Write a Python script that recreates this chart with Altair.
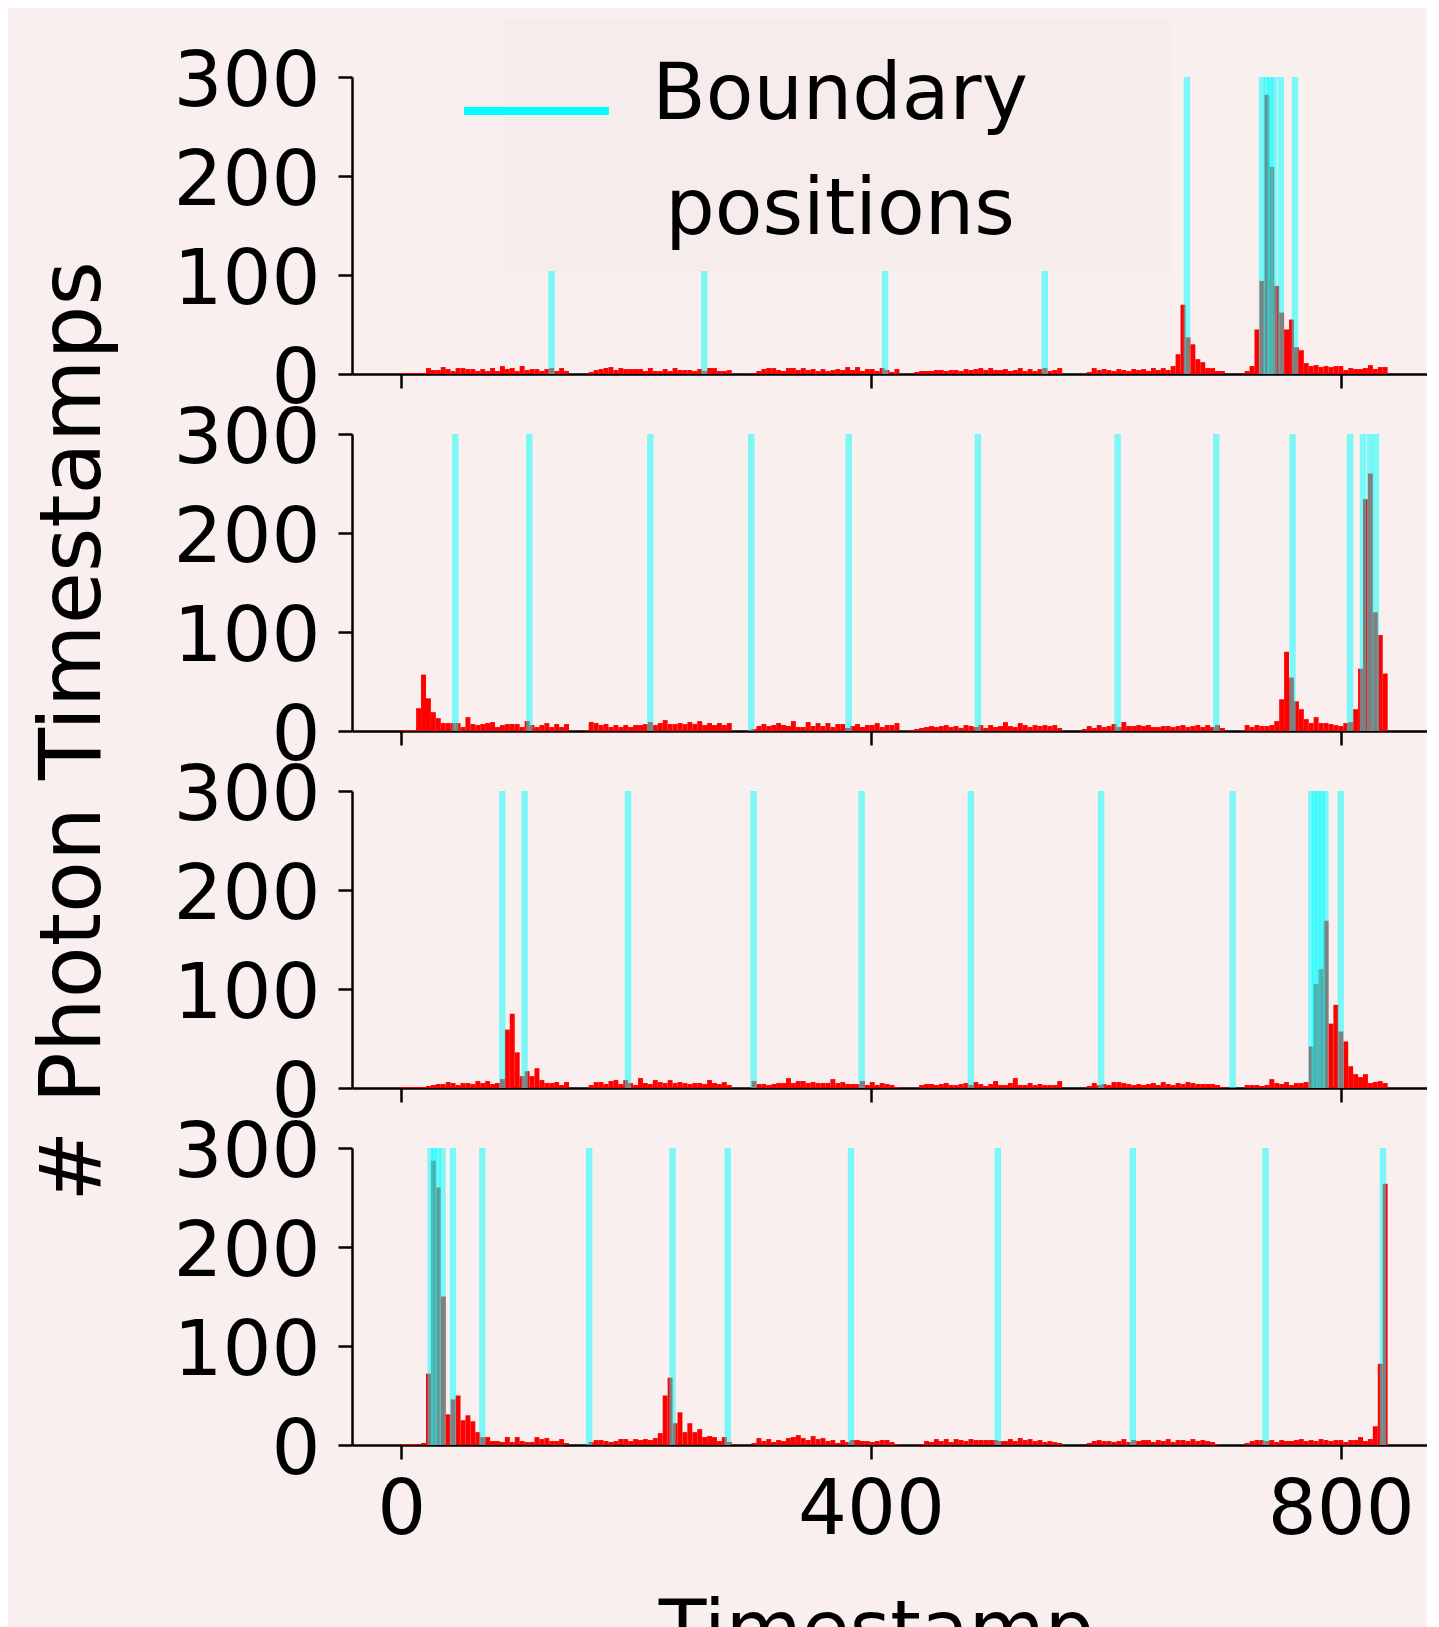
import altair as alt
import pandas as pd

# ---------------- data ----------------
BIN_WIDTH = 4.2  # histogram bin width in timestamp units

counts_1 = [1,1,1,1,1,
            6,4,4,7,5,3,6,6,5,5,3,5,3,6,3,8,5,6,3,8,4,5,5,3,5,6,3,6,3,
            0,0,0,0,
            2,4,5,6,7,4,6,5,5,5,5,3,6,3,3,5,3,6,4,4,4,3,5,3,6,6,3,3,4,
            0,0,0,0,
            1,3,5,6,6,4,3,6,6,4,6,4,5,3,5,3,4,5,4,7,4,7,3,5,5,3,6,4,2,5,
            0,0,0,2,
            3,3,3,4,4,3,4,4,3,5,4,5,6,4,6,4,4,5,3,4,6,3,5,3,5,6,3,4,6,
            0,0,0,0,0,
            2,6,4,5,4,3,5,4,3,5,4,5,3,6,4,6,4,
            8,20,70,37,30,15,12,6,6,3,3,
            0,0,0,0,
            3,8,45,94,282,209,89,62,45,55,27,24,11,
            8,9,7,8,7,8,8,4,6,5,5,6,9,5,7,7]

counts_2 = [1,1,1,
            23,57,33,19,13,8,8,
            8,8,4,14,7,6,7,8,9,4,6,7,7,7,4,10,6,4,6,8,4,7,4,7,
            0,0,0,1,
            9,8,6,7,4,6,4,6,4,6,6,7,9,6,8,11,7,7,8,7,9,7,10,6,8,6,8,6,8,
            0,0,0,1,
            2,5,7,5,6,8,6,5,10,4,4,9,5,8,5,8,4,7,7,3,5,7,4,6,6,8,4,6,6,8,
            0,0,1,2,
            3,4,5,4,5,6,4,5,3,6,5,4,6,3,6,4,5,9,5,4,8,6,4,6,5,6,5,6,3,
            0,0,0,0,2,
            5,3,6,4,5,7,4,9,5,5,6,5,6,4,4,5,5,4,5,6,4,5,6,4,6,4,6,3,
            0,0,0,1,
            6,4,6,5,5,6,10,32,80,54,30,22,12,8,14,8,8,7,6,5,8,9,22,63,234,260,120,97,58]

counts_3 = [1,1,1,1,1,
            2,3,4,4,6,5,3,5,5,4,7,5,7,4,5,
            9,59,75,36,12,17,12,20,8,5,5,6,3,6,
            0,0,0,0,
            3,6,6,4,7,8,4,8,5,3,10,5,4,8,6,5,8,5,6,5,4,5,5,4,8,5,4,6,3,
            0,0,0,0,
            7,4,4,3,4,5,5,10,5,7,7,5,6,5,5,5,9,5,6,4,4,4,7,3,6,3,5,4,3,1,
            0,0,0,0,
            3,4,4,3,4,5,3,3,4,5,3,6,4,2,4,7,3,3,5,10,3,3,5,3,4,3,3,3,7,
            0,0,0,0,0,
            2,5,3,4,3,6,6,5,4,3,4,3,4,5,3,6,4,3,5,4,6,5,4,4,4,4,3,1,
            0,0,0,0,
            3,3,3,2,3,9,5,4,6,3,5,5,6,
            42,105,120,169,65,84,57,47,22,14,11,14,5,6,7,5]

counts_4 = [1,1,1,1,2,
            72,287,260,150,31,46,50,25,30,24,13,8,
            8,4,4,3,8,3,8,4,3,3,8,6,7,4,4,6,2,
            0,0,0,0,
            3,5,5,4,3,4,6,6,4,6,5,6,5,7,12,50,68,22,33,13,22,13,16,8,9,8,4,8,3,
            0,0,0,0,
            2,7,4,6,3,5,4,7,8,10,7,5,9,6,7,4,5,2,5,3,5,5,4,4,3,4,5,5,3,1,
            0,0,0,0,
            1,4,3,6,4,6,3,6,5,4,6,5,5,5,5,5,4,4,6,4,7,5,6,4,5,3,4,3,2,
            0,0,0,0,0,
            2,4,5,4,4,3,4,6,3,5,4,5,5,3,5,4,6,3,5,5,4,6,4,5,4,3,1,0,
            0,0,0,0,
            2,4,5,5,4,5,3,5,4,4,5,6,4,5,4,6,5,4,5,5,3,5,5,8,4,
            6,19,82,264]

boundaries_1 = [128, 258, 412, 548, 669, 733, 737, 740, 743, 749, 761]
boundaries_2 = [46, 109, 212, 298, 381, 491, 610, 694, 759, 808, 819, 825, 830]
boundaries_3 = [86, 105, 193, 300, 392, 485, 596, 708, 775, 778, 781, 784, 787, 800]
boundaries_4 = [25, 28, 31, 35, 44, 69, 160, 231, 278, 383, 508, 623, 736, 836]

x_domain = [-42, 873.5]
y_domain = [0, 300]
x_ticks = [0, 400, 800]
y_ticks = [0, 100, 200, 300]
legend_label = "Boundary\n\u2009positions"
x_title = "Timestamp"
y_title = "# Photon Timestamps"

# ---------------- style ----------------
BG = "#f8efee"
LEGEND_BG = "#f6eceb"
FONT = "DejaVu Sans"
W, H = 1075, 297
LINE_W = 2.5
TICK_FS = 77


def make_axes(idx, last):
    x_kwargs = dict(values=x_ticks, labels=last, grid=False, tickSize=14,
                    tickWidth=LINE_W, tickColor="black", domainWidth=LINE_W,
                    domainColor="black", labelFontSize=TICK_FS, labelFont=FONT,
                    labelColor="black", labelPadding=13, labelFlush=False)
    if last:
        x_kwargs.update(title=x_title, titleFont=FONT, titleFontSize=78,
                        titleFontWeight="normal", titleColor="black",
                        titleX=524, titleY=210, titleBaseline="alphabetic")
    else:
        x_kwargs.update(title=None)
    y_kwargs = dict(values=y_ticks, grid=False, tickSize=14, tickWidth=LINE_W,
                    tickColor="black", domainWidth=LINE_W, domainColor="black",
                    labelFontSize=TICK_FS, labelFont=FONT, labelColor="black",
                    labelPadding=18, labelOffset=5, labelFlush=False)
    if idx == 1:
        y_kwargs.update(title=y_title, titleFont=FONT, titleFontSize=85,
                        titleFontWeight="normal", titleColor="black",
                        titleX=-235, titleY=297, titleAngle=270,
                        titleAlign="center", titleBaseline="bottom")
    else:
        y_kwargs.update(title=None)
    return alt.Axis(**x_kwargs), alt.Axis(**y_kwargs)


def panel(counts, bounds, idx, last=False, with_legend=False):
    hist = pd.DataFrame({
        "start": [i * BIN_WIDTH for i in range(len(counts))],
        "end": [(i + 1) * BIN_WIDTH for i in range(len(counts))],
        "count": counts,
    })
    xa, ya = make_axes(idx, last)
    xs = alt.Scale(domain=x_domain, nice=False, zero=False)
    ys = alt.Scale(domain=y_domain, nice=False)
    bars = alt.Chart(hist).mark_bar(color="#ff0000").encode(
        x=alt.X("start:Q", scale=xs, axis=xa),
        x2="end:Q",
        y=alt.Y("count:Q", scale=ys, axis=ya),
        y2=alt.datum(0),
    )
    rules = alt.Chart(pd.DataFrame({"pos": bounds})).mark_rule(
        color="#00ffff", opacity=0.5, strokeWidth=6.4
    ).encode(x=alt.X("pos:Q", scale=xs, axis=xa))
    layers = [bars, rules]
    if with_legend:
        ldf = pd.DataFrame({"label": [legend_label]})
        box = alt.Chart(ldf).mark_rect(color=LEGEND_BG).encode(
            x=alt.value(152), x2=alt.value(819), y=alt.value(-58), y2=alt.value(194))
        handle = alt.Chart(ldf).mark_rule(color="#00ffff", strokeWidth=8).encode(
            x=alt.value(112), x2=alt.value(257), y=alt.value(34))
        txt = alt.Chart(ldf).mark_text(
            font=FONT, fontSize=78, lineBreak="\n", lineHeight=115,
            align="center", baseline="alphabetic", color="black"
        ).encode(x=alt.value(488), y=alt.value(42), text="label:N")
        layers += [box, handle, txt]
    return alt.layer(*layers).properties(width=W, height=H)


p1 = panel(counts_1, boundaries_1, 0, with_legend=True)
p2 = panel(counts_2, boundaries_2, 1)
p3 = panel(counts_3, boundaries_3, 2)
p4 = panel(counts_4, boundaries_4, 3, last=True)

chart = alt.vconcat(p1, p2, p3, p4, spacing=60, bounds="flush").properties(
    background=BG,
    padding={"left": 22, "top": 11, "right": 0, "bottom": 0},
).configure_view(strokeWidth=0)

chart.save("out.html", embed_options={"renderer": "svg", "actions": False})
